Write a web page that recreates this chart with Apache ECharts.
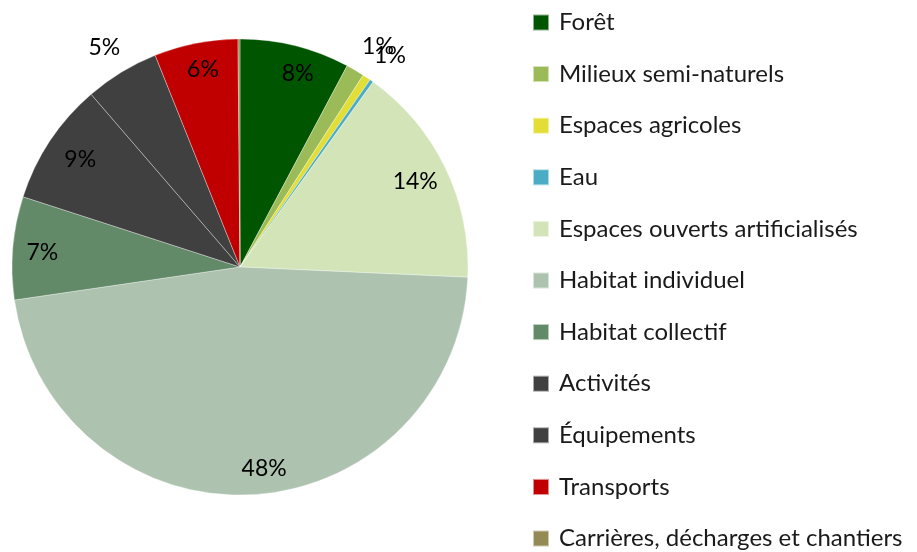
<!DOCTYPE html>
<html>
<head>
<meta charset="utf-8">
<script src="https://cdn.jsdelivr.net/npm/echarts@6/dist/echarts.min.js"></script>
<style>html,body{margin:0;padding:0;background:#fff}#c{width:917px;height:552px}</style>
</head>
<body>
<div id="c"></div>
<script>
const categories = ['Forêt','Milieux semi-naturels','Espaces agricoles','Eau','Espaces ouverts artificialisés','Habitat individuel','Habitat collectif','Activités','Équipements','Transports','Carrières, décharges et chantiers'];
const values = [7.79, 1.30, 0.58, 0.26, 15.8, 47.0, 7.3, 8.7, 5.26, 5.93, 0.14];
const labelTexts = ['8%','1%','1%','','14%','48%','7%','9%','5%','6%',''];
// label placement group: 0 = inside, 1 and 2 = outside (two groups so overlapping labels both show)
const labelGroup = [0, 1, 2, 0, 0, 0, 0, 0, 1, 0, 0];
const colors = ['#005500','#9BBB59','#E2DE36','#4BACC6','#D3E5B8','#ADC3B0','#638A68','#404040','#404040','#C00000','#948A54'];

const FONT = 'Lato';
const C = [240, 267];
const R = 228;
// small nudges to mimic the spreadsheet's "best fit" label placement
const labelNudge = { 0: [9, 2], 1: [5, 6], 4: [-6, 2], 5: [14, 0], 6: [3, 2], 7: [8, 4], 8: [1, 5], 9: [2, 0], 2: [-12, 0] };

const mainData = categories.map((n, i) => ({ name: n, value: values[i], itemStyle: { color: colors[i] } }));
function overlay(group) {
  return values.map((v, i) => ({
    value: v,
    label: { show: labelTexts[i] !== '' && labelGroup[i] === group, offset: labelNudge[i] || [0, 0] }
  }));
}
const labelBase = {
  fontFamily: FONT, fontSize: 23, color: '#000',
  formatter: p => labelTexts[p.dataIndex]
};
function overlaySeries(group, radius, position, line) {
  return {
    type: 'pie', center: C, radius: radius, startAngle: 90, clockwise: true,
    data: overlay(group), itemStyle: { color: 'rgba(0,0,0,0)' },
    label: Object.assign({ position: position }, labelBase),
    labelLine: Object.assign({ show: false }, line || {}),
    labelLayout: { hideOverlap: false },
    silent: true, avoidLabelOverlap: false,
    emphasis: { disabled: true }
  };
}

const chart = echarts.init(document.getElementById('c'), null, { renderer: 'canvas' });
chart.setOption({
  animation: false,
  backgroundColor: '#fff',
  legend: {
    orient: 'vertical',
    left: 532, top: 6.5, height: 550,
    padding: 0,
    itemWidth: 16, itemHeight: 16,
    itemGap: 19.6,
    icon: 'rect',
    data: categories,
    selectedMode: false,
    textStyle: { fontFamily: FONT, fontSize: 24, color: '#1a1a1a', lineHeight: 24, padding: [8,0,0,5] }
  },
  series: [
    {
      type: 'pie', center: C, radius: R, startAngle: 90, clockwise: true,
      data: mainData, label: { show: false }, labelLine: { show: false },
      itemStyle: { borderColor: 'rgba(255,255,255,0.55)', borderWidth: 0.6 },
      silent: true
    },
    overlaySeries(0, [R * 0.74, R], 'inside'),
    overlaySeries(1, [R + 14, R + 50], 'inside'),
    overlaySeries(2, R, 'outside', { length: 26, length2: 0 })
  ]
});
</script>
</body>
</html>
